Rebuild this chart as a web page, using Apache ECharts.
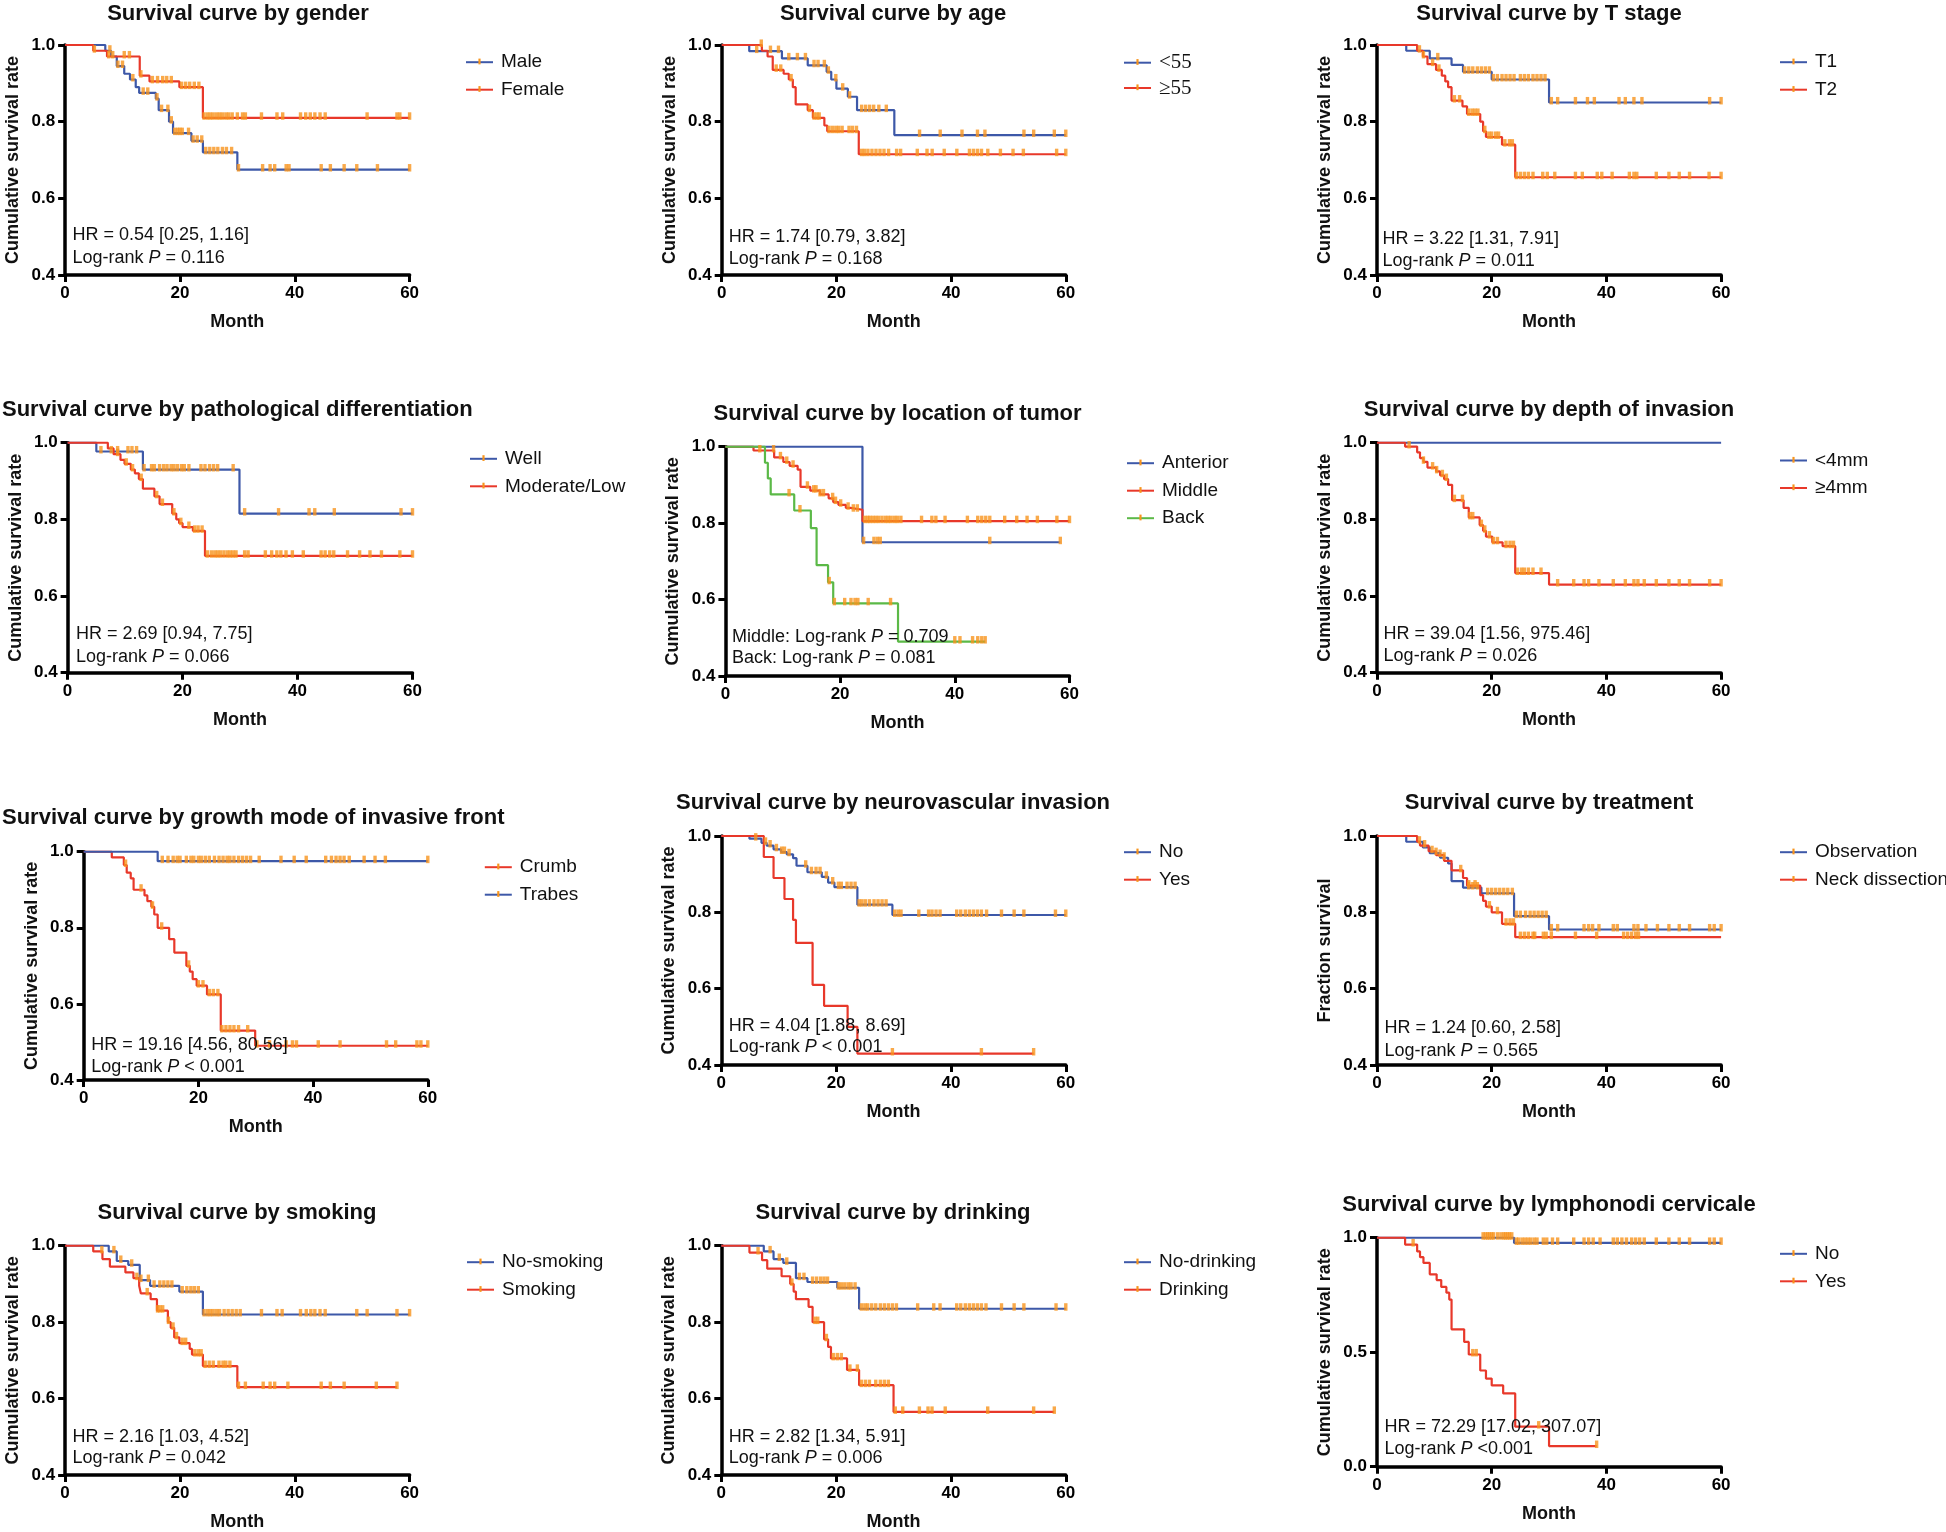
<!DOCTYPE html>
<html lang="en">
<head>
<meta charset="UTF-8">
<title>Survival curves</title>
<script src="https://cdn.jsdelivr.net/npm/echarts@6.0.0/dist/echarts.min.js"></script>
<style>
  body { margin: 0; padding: 0; background: #fff; }
  #main { width: 1946px; height: 1532px; }
</style>
</head>
<body>
<div id="main"></div>
<script>
// ---------- data: [month, survival after step], last point = end of follow-up ----------
// gender
const maleSteps = [[0,1],[7.0,0.985],[8.0,0.97],[9.0,0.945],[10.3,0.925],[11.3,0.91],[12.3,0.89],[12.9,0.875],[15.8,0.86],[16.3,0.83],[18.1,0.80],[18.8,0.77],[22.0,0.75],[24.0,0.72],[30.0,0.675],[60,0.675]];
const maleCensor = [7.8,9.2,10.0,11.8,13.6,14.4,16.0,16.8,17.9,18.5,19.1,19.6,20.0,20.4,21.5,22.3,23.0,23.8,24.5,25.2,25.9,26.6,27.4,28.1,29.0,30.2,34.4,35.7,36.5,38.5,39.0,44.6,46.2,48.6,50.8,54.4,60];
const femaleSteps = [[0,1],[4.9,0.985],[7.3,0.97],[13.0,0.92],[14.7,0.905],[19.9,0.89],[24.0,0.81],[60,0.81]];
const femaleCensor = [5.1,7.6,8.3,10.3,11.2,13.2,15.2,16.1,17.0,17.7,18.5,20.3,21.0,21.7,22.5,23.3,24.2,24.8,25.3,25.8,26.4,26.9,27.4,28.0,28.5,29.1,30.0,30.9,31.4,34.2,36.9,37.9,41.0,41.9,42.7,43.5,44.4,45.3,52.6,57.8,58.3,60];
// age
const youngSteps = [[0,1],[4.8,0.984],[10.5,0.965],[15.0,0.947],[18.3,0.93],[19.1,0.91],[20.0,0.886],[22.0,0.865],[23.6,0.83],[30.1,0.765],[60,0.765]];
const youngCensor = [6.1,8.5,9.9,11.7,13.2,14.6,16.1,16.8,17.9,18.6,19.9,21.1,22.3,24.4,25.1,25.8,26.5,27.4,28.7,34.5,38.1,41.9,44.6,45.9,52.7,54.4,58.0,60];
const oldSteps = [[0,1],[7.0,0.985],[8.0,0.97],[8.9,0.935],[10.8,0.925],[11.7,0.91],[12.4,0.89],[12.9,0.845],[15.0,0.83],[15.9,0.81],[17.9,0.79],[18.4,0.775],[23.9,0.715],[60,0.715]];
const oldCensor = [6.9,9.5,10.3,12.1,15.3,16.1,16.6,17.0,18.7,19.3,19.9,20.4,21.0,22.2,22.8,23.5,24.4,24.9,25.5,26.2,26.9,27.6,28.3,29.1,30.5,31.2,34.1,35.8,36.7,38.8,41.0,43.2,43.9,44.6,45.3,46.4,48.6,50.8,52.6,58.4,60];
// T stage
const t1Steps = [[0,1],[5.1,0.985],[9.2,0.965],[13.0,0.948],[15.0,0.93],[20.0,0.91],[30.0,0.85],[60,0.85]];
const t1Censor = [7.4,10.6,15.3,16.0,16.7,17.5,18.2,18.9,19.6,20.3,21.0,21.8,22.5,23.2,23.9,25.0,25.7,26.4,27.2,27.9,28.6,29.3,30.4,31.5,34.6,36.7,37.9,42.2,43.3,44.8,46.2,58.0,60];
const t2Steps = [[0,1],[7.0,0.985],[8.0,0.97],[8.8,0.95],[10.3,0.935],[11.3,0.92],[11.9,0.905],[12.4,0.89],[13.0,0.855],[14.9,0.84],[15.7,0.82],[18.0,0.80],[18.5,0.775],[19.0,0.76],[21.8,0.74],[24.1,0.655],[60,0.655]];
const t2Censor = [8.1,9.7,10.8,13.5,14.4,16.0,16.6,17.1,17.6,18.8,19.5,20.0,20.7,21.2,22.3,23.1,23.6,24.3,25.0,25.7,26.4,27.2,28.9,29.7,31.0,34.6,35.8,38.4,39.2,41.0,44.0,44.8,45.3,48.7,50.9,52.7,54.5,57.9,60];
// pathological differentiation
const wellSteps = [[0,1],[5.0,0.977],[13.1,0.93],[29.9,0.815],[60,0.815]];
const wellCensor = [5.8,7.6,8.7,10.5,11.2,12.0,13.3,14.6,15.1,16.0,16.7,17.3,18.0,18.5,19.1,19.8,20.3,21.1,23.2,23.9,24.7,25.4,26.1,28.8,30.8,36.7,42.0,43.0,46.4,58.0,60];
const modSteps = [[0,1],[7.0,0.985],[8.0,0.97],[9.2,0.955],[9.9,0.945],[11.0,0.93],[11.7,0.92],[12.4,0.905],[13.1,0.88],[15.1,0.86],[16.0,0.84],[18.2,0.815],[18.9,0.80],[19.4,0.79],[20.0,0.78],[21.8,0.77],[23.9,0.705],[60,0.705]];
const modCensor = [8.7,10.2,11.3,12.8,15.5,16.5,18.5,19.7,21.1,22.1,22.7,23.4,24.3,25.0,25.6,26.1,26.6,27.2,27.8,28.3,28.8,29.3,30.8,31.4,34.4,35.5,36.4,37.1,38.0,39.1,41.0,44.1,44.8,45.6,46.3,48.7,50.8,52.6,54.6,57.8,60];
// location of tumor
const anteriorSteps = [[0,1],[23.9,0.75],[58.4,0.75]];
const anteriorCensor = [24.1,25.9,26.5,27.0,46.1,58.4];
const middleSteps = [[0,1],[4.9,0.99],[8.5,0.972],[10.1,0.96],[11.2,0.95],[12.6,0.94],[13.1,0.895],[14.8,0.885],[16.5,0.875],[18.0,0.865],[18.8,0.855],[19.7,0.848],[21.0,0.84],[21.8,0.835],[23.9,0.805],[60,0.805]];
const middleCensor = [6.0,8.4,9.6,10.7,11.8,14.3,15.4,15.8,16.5,17.1,18.7,19.2,20.1,21.4,22.3,23.0,24.3,24.8,25.2,25.7,26.2,26.7,27.3,27.9,28.4,28.9,29.5,30.0,30.6,34.2,36.0,36.7,38.3,42.2,44.0,44.7,45.4,46.1,48.7,50.8,52.6,54.4,57.8,60];
const backSteps = [[0,1],[6.9,0.958],[7.4,0.917],[7.9,0.875],[12.0,0.833],[14.9,0.787],[15.9,0.69],[17.9,0.645],[18.8,0.59],[30.1,0.49],[45.3,0.49]];
const backCensor = [11.1,13.0,18.1,19.0,20.8,21.9,22.6,23.1,24.9,28.8,40.0,40.9,43.1,44.0,44.7,45.3];
// depth of invasion
const thinSteps = [[0,1],[60,1]];
const thinCensor = [];
const thickSteps = [[0,1],[4.9,0.99],[7.0,0.975],[7.5,0.96],[8.1,0.95],[8.8,0.935],[10.3,0.925],[11.0,0.915],[11.7,0.905],[12.4,0.89],[13.1,0.85],[15.1,0.83],[16.0,0.805],[17.9,0.785],[18.5,0.77],[19.0,0.755],[20.1,0.74],[21.9,0.73],[24.1,0.66],[30.0,0.63],[60,0.63]];
const thickCensor = [5.6,8.1,9.7,10.4,11.4,12.1,13.5,14.9,16.2,16.7,18.2,18.8,19.6,20.3,21.0,22.5,23.2,23.8,24.5,25.2,25.7,26.4,27.2,28.6,31.5,34.3,36.1,36.9,38.7,41.2,43.3,44.8,45.5,46.6,48.7,50.9,52.7,54.5,58.0,60];
// growth mode of invasive front
const crumbSteps = [[0,1],[4.9,0.985],[7.0,0.965],[7.5,0.945],[8.2,0.93],[8.7,0.90],[10.6,0.885],[11.1,0.87],[11.8,0.855],[12.3,0.835],[12.9,0.80],[14.9,0.77],[15.8,0.735],[17.9,0.70],[18.5,0.685],[19.0,0.665],[19.7,0.648],[21.5,0.625],[23.9,0.53],[29.9,0.49],[60,0.49]];
const crumbCensor = [7.3,10.0,12.0,13.6,18.3,20.0,20.8,21.9,22.6,23.4,24.1,24.8,25.5,26.2,27.0,28.6,30.2,32.4,35.3,36.4,37.1,40.9,44.7,52.8,54.4,58.1,58.8,60];
const trabesSteps = [[0,1],[12.9,0.975],[60,0.975]];
const trabesCensor = [13.7,14.7,15.6,16.3,16.8,17.9,18.7,19.2,20.0,20.5,21.2,21.9,22.8,23.6,24.3,25.0,25.5,26.2,27.0,27.7,28.4,29.1,30.6,34.4,36.7,38.8,42.2,43.2,44.0,44.7,45.4,46.3,48.9,50.8,52.6,60];
// neurovascular invasion
const nvNoSteps = [[0,1],[4.9,0.993],[7.0,0.982],[7.9,0.975],[9.1,0.965],[10.4,0.958],[11.4,0.952],[12.5,0.942],[13.1,0.922],[15.0,0.905],[17.5,0.893],[18.6,0.878],[19.7,0.866],[23.7,0.82],[29.8,0.793],[60,0.793]];
const nvNoCensor = [6.0,7.7,8.5,9.6,10.5,11.0,11.8,14.7,15.7,16.5,17.2,18.3,19.4,20.4,20.9,21.9,22.6,23.3,24.0,24.5,25.1,25.8,26.6,27.3,28.0,28.7,30.2,30.8,31.3,34.4,36.1,36.7,37.4,38.1,41.0,41.7,42.5,43.2,43.9,44.6,45.3,46.2,48.8,51.0,52.7,58.2,60];
const nvYesSteps = [[0,1],[7.4,0.945],[9.1,0.89],[11.0,0.835],[12.5,0.78],[13.0,0.72],[15.9,0.61],[17.9,0.555],[22.0,0.50],[23.7,0.43],[54.4,0.43]];
const nvYesCensor = [29.8,45.3,54.4];
// treatment
const obsSteps = [[0,1],[5.1,0.985],[8.0,0.97],[9.2,0.955],[11.0,0.943],[12.4,0.928],[13.0,0.882],[15.0,0.865],[18.2,0.85],[23.9,0.79],[30.0,0.755],[60,0.755]];
const obsCensor = [7.4,10.3,11.7,16.0,16.7,17.5,19.3,20.0,20.7,21.4,22.1,22.8,23.6,24.3,25.0,25.9,26.7,27.4,28.1,28.8,29.5,30.4,31.5,36.1,36.9,37.6,38.7,41.2,41.9,44.8,45.5,46.9,48.9,50.9,52.7,54.5,58.0,58.8,60];
const neckSteps = [[0,1],[7.0,0.985],[7.5,0.975],[9.0,0.96],[10.3,0.95],[11.7,0.935],[13.0,0.91],[15.0,0.89],[15.7,0.87],[18.0,0.845],[18.5,0.83],[19.0,0.815],[20.0,0.80],[21.8,0.77],[24.1,0.735],[60,0.735]];
const neckCensor = [8.3,9.6,11.0,14.6,16.0,17.1,19.6,21.0,22.5,23.2,23.8,25.0,25.7,26.4,27.2,27.5,29.0,29.5,30.4,34.6,38.3,43.0,43.7,44.4,45.1,45.6];
// smoking
const noSmokeSteps = [[0,1],[7.6,0.985],[9.0,0.96],[11.0,0.95],[13.0,0.91],[14.8,0.895],[19.9,0.88],[24.0,0.82],[60,0.82]];
const noSmokeCensor = [8.5,9.7,11.6,13.2,14.5,15.5,16.5,17.2,17.9,18.6,20.4,21.2,21.9,22.5,23.2,24.2,24.8,25.3,25.8,26.4,26.9,27.7,28.4,29.1,29.8,30.5,34.2,36.9,37.8,41.0,42.0,42.8,43.5,44.4,45.3,50.8,52.6,57.8,60];
const smokeSteps = [[0,1],[4.9,0.985],[6.5,0.965],[7.8,0.945],[10.5,0.93],[11.9,0.915],[12.9,0.895],[13.2,0.875],[14.9,0.86],[16.0,0.83],[17.9,0.80],[18.4,0.785],[19.0,0.76],[19.9,0.745],[21.7,0.73],[22.1,0.715],[24.0,0.685],[30.0,0.63],[57.8,0.63]];
const smokeCensor = [6.4,12.5,14.3,16.1,16.5,17.0,18.0,18.8,19.4,20.4,21.0,22.6,23.2,23.7,24.4,25.1,25.8,26.8,27.5,28.0,28.7,30.2,31.4,34.5,35.7,36.5,38.8,44.6,46.2,48.6,54.2,57.8];
// drinking
const noDrinkSteps = [[0,1],[7.4,0.985],[9.1,0.965],[10.8,0.955],[13.0,0.915],[15.0,0.905],[20.2,0.89],[24.0,0.835],[60,0.835]];
const noDrinkCensor = [8.5,10.1,11.4,13.6,14.4,15.9,16.6,17.3,17.9,18.5,20.4,20.9,21.5,22.1,22.6,23.3,24.4,25.0,25.5,26.2,26.9,27.7,28.4,29.1,29.8,30.5,34.2,37.0,38.1,41.0,41.7,42.5,43.2,43.9,44.6,45.3,46.1,48.8,51.0,52.7,58.3,60];
const drinkSteps = [[0,1],[4.9,0.982],[7.1,0.962],[8.0,0.94],[10.5,0.92],[12.0,0.90],[12.6,0.88],[13.0,0.86],[15.2,0.84],[15.9,0.80],[17.9,0.755],[18.6,0.735],[19.1,0.705],[21.9,0.675],[24.0,0.635],[30.0,0.565],[58.0,0.565]];
const drinkCensor = [6.4,12.3,16.3,16.8,18.3,19.5,20.2,20.9,22.4,23.7,24.4,25.1,25.8,26.9,27.7,28.4,29.1,30.3,31.6,34.5,36.0,36.7,39.0,46.4,54.4,58.0];
// lymphonodi cervicale
const lnNoSteps = [[0,1],[23.9,0.977],[60,0.977]];
const lnNoCensor = [18.5,18.9,19.3,19.6,20.0,20.3,21.0,21.6,22.1,22.4,22.8,23.1,23.5,24.3,24.7,25.3,25.8,26.3,26.8,27.4,27.9,29.0,29.6,30.6,31.5,34.3,36.1,36.9,37.7,38.9,41.2,41.9,42.7,43.5,44.4,45.1,45.8,46.6,48.7,50.9,52.7,54.5,58.0,58.8,60];
const lnYesSteps = [[0,1],[4.9,0.97],[7.0,0.94],[7.5,0.915],[8.1,0.89],[9.2,0.84],[10.4,0.815],[11.2,0.785],[12.1,0.76],[12.6,0.73],[13.0,0.60],[15.2,0.545],[16.0,0.49],[18.0,0.42],[19.0,0.385],[20.0,0.355],[22.0,0.32],[24.1,0.175],[30.0,0.09],[38.3,0.09]];
const lnYesCensor = [6.3,16.7,17.3,28.2,38.3];

// ---------- panels ----------
const BLUE = '#3D58A8', RED = '#E8382A', GREEN = '#5BB947', ORANGE = '#F7941D';
const FONT = 'Arial, "Liberation Sans", Helvetica, sans-serif';
const CSR = 'Cumulative survival rate';

const panels = [
  { title: 'Survival curve by gender', yName: CSR,
    groups: [['Male', BLUE, maleSteps, maleCensor], ['Female', RED, femaleSteps, femaleCensor]],
    hr: 'HR = 0.54 [0.25, 1.16]', p: ['Log-rank ', ' = 0.116'] },
  { title: 'Survival curve by age', yName: CSR, serifLegend: true,
    groups: [['<55', BLUE, youngSteps, youngCensor], ['≥55', RED, oldSteps, oldCensor]],
    hr: 'HR = 1.74 [0.79, 3.82]', p: ['Log-rank ', ' = 0.168'] },
  { title: 'Survival curve by T stage', yName: CSR,
    groups: [['T1', BLUE, t1Steps, t1Censor], ['T2', RED, t2Steps, t2Censor]],
    hr: 'HR = 3.22 [1.31, 7.91]', p: ['Log-rank ', ' = 0.011'] },
  { title: 'Survival curve by pathological differentiation', yName: CSR,
    groups: [['Well', BLUE, wellSteps, wellCensor], ['Moderate/Low', RED, modSteps, modCensor]],
    hr: 'HR = 2.69 [0.94, 7.75]', p: ['Log-rank ', ' = 0.066'] },
  { title: 'Survival curve by location of tumor', yName: CSR,
    groups: [['Anterior', BLUE, anteriorSteps, anteriorCensor], ['Middle', RED, middleSteps, middleCensor], ['Back', GREEN, backSteps, backCensor]],
    hr: 'Middle: Log-rank {i|P} = 0.709', p: ['Back: Log-rank ', ' = 0.081'] },
  { title: 'Survival curve by depth of invasion', yName: CSR,
    groups: [['<4mm', BLUE, thinSteps, thinCensor], ['≥4mm', RED, thickSteps, thickCensor]],
    hr: 'HR = 39.04 [1.56, 975.46]', p: ['Log-rank ', ' = 0.026'] },
  { title: 'Survival curve by growth mode of invasive front', yName: CSR,
    groups: [['Crumb', RED, crumbSteps, crumbCensor], ['Trabes', BLUE, trabesSteps, trabesCensor]],
    hr: 'HR = 19.16 [4.56, 80.56]', p: ['Log-rank ', ' < 0.001'] },
  { title: 'Survival curve by neurovascular invasion', yName: CSR,
    groups: [['No', BLUE, nvNoSteps, nvNoCensor], ['Yes', RED, nvYesSteps, nvYesCensor]],
    hr: 'HR = 4.04 [1.88, 8.69]', p: ['Log-rank ', ' < 0.001'] },
  { title: 'Survival curve by treatment', yName: 'Fraction survival',
    groups: [['Observation', BLUE, obsSteps, obsCensor], ['Neck dissection', RED, neckSteps, neckCensor]],
    hr: 'HR = 1.24 [0.60, 2.58]', p: ['Log-rank ', ' = 0.565'] },
  { title: 'Survival curve by smoking', yName: CSR,
    groups: [['No-smoking', BLUE, noSmokeSteps, noSmokeCensor], ['Smoking', RED, smokeSteps, smokeCensor]],
    hr: 'HR = 2.16 [1.03, 4.52]', p: ['Log-rank ', ' = 0.042'] },
  { title: 'Survival curve by drinking', yName: CSR,
    groups: [['No-drinking', BLUE, noDrinkSteps, noDrinkCensor], ['Drinking', RED, drinkSteps, drinkCensor]],
    hr: 'HR = 2.82 [1.34, 5.91]', p: ['Log-rank ', ' = 0.006'] },
  { title: 'Survival curve by lymphonodi cervicale', yName: CSR, yMin: 0, yStep: 0.5,
    groups: [['No ', BLUE, lnNoSteps, lnNoCensor], ['Yes ', RED, lnYesSteps, lnYesCensor]],
    hr: 'HR = 72.29 [17.02, 307.07]', p: ['Log-rank ', ' <0.001'] }
];

// layout: grid [left, top, width, height], title [x, y, align], legend [x, firstRowY], text [x, y1, y2]
const boxes = [
  { g: [65.1, 45, 344.5, 230], t: [238, 14, 'center'], lg: [460, 61.7], tx: [72.5, 235, 257.7] },
  { g: [721.7, 45, 344.1, 230], t: [893, 14, 'center'], lg: [1118, 61.7], tx: [728.8, 236.7, 259.3] },
  { g: [1377, 45, 344.1, 230], t: [1549, 14, 'center'], lg: [1774, 61.7], tx: [1382.4, 239.3, 261] },
  { g: [67.6, 442.7, 344.9, 230], t: [2, 409.5, 'left'], lg: [464, 458.3], tx: [75.9, 634.3, 656.7] },
  { g: [725.4, 446.7, 344.1, 229.3], t: [897.5, 414, 'center'], lg: [1121, 462.7], tx: [732, 636.7, 658.3] },
  { g: [1377, 442.7, 344.1, 230], t: [1549, 409.5, 'center'], lg: [1774, 460], tx: [1383.6, 634, 656] },
  { g: [83.7, 851.7, 344.1, 228.3], t: [2, 817.5, 'left'], lg: [478.8, 866.7], tx: [91.2, 1045, 1066.7] },
  { g: [721.3, 836, 344.5, 229], t: [893, 802.5, 'center'], lg: [1118, 851.7], tx: [728.8, 1025.7, 1047.3] },
  { g: [1377, 836, 344.1, 229], t: [1549, 802.5, 'center'], lg: [1774, 851.7], tx: [1384.5, 1028.3, 1050.7] },
  { g: [65.1, 1245.7, 344.5, 229.3], t: [237, 1212.5, 'center'], lg: [461, 1261.7], tx: [72.5, 1436.7, 1458.3] },
  { g: [721.3, 1245.7, 344.5, 229.3], t: [893, 1212.5, 'center'], lg: [1118, 1261.7], tx: [728.8, 1436.7, 1458.3] },
  { g: [1377, 1237.7, 344.1, 229], t: [1549, 1204.5, 'center'], lg: [1774, 1253.3], tx: [1384.5, 1427.3, 1449.3] }
];

// censor tick used as the legend symbol (bounding box 10x10, thin bar in the middle)
const TICK = 'path://M0,0M10,10M3.5,0h3v8h-3z';

function survAt(steps, t) {
  let v = steps[0][1];
  for (const [x, y] of steps) { if (x <= t) v = y; else break; }
  return v;
}

const grid = [], xAxis = [], yAxis = [], legend = [], series = [], graphic = [];
const italicP = { fontStyle: 'italic', fontSize: 18, fontFamily: FONT, fill: '#111' };

panels.forEach((p, i) => {
  const b = boxes[i];
  grid.push({ left: b.g[0], top: b.g[1], width: b.g[2], height: b.g[3], containLabel: false, outerBoundsMode: 'none' });
  const axisCommon = {
    gridIndex: i,
    axisLine: { show: true, onZero: false, lineStyle: { color: '#000', width: 3.5 } },
    axisTick: { show: true, length: 7, lineStyle: { color: '#000', width: 3 } },
    splitLine: { show: false },
    nameTextStyle: { color: '#111', fontWeight: 'bold', fontSize: 18, fontFamily: FONT }
  };
  xAxis.push(Object.assign({}, axisCommon, {
    type: 'value', min: 0, max: 60, interval: 20,
    name: 'Month', nameLocation: 'middle', nameGap: 38,
    axisLabel: { color: '#000', fontWeight: 'bold', fontSize: 17, fontFamily: FONT, margin: 10 }
  }));
  const yMin = p.yMin !== undefined ? p.yMin : 0.4;
  const yStep = p.yStep || 0.2;
  yAxis.push(Object.assign({}, axisCommon, {
    type: 'value', min: yMin, max: 1, interval: yStep,
    name: p.yName, nameLocation: 'middle', nameRotate: 90, nameGap: 43,
    axisLabel: { color: '#000', fontWeight: 'bold', fontSize: 17, fontFamily: FONT, margin: 10,
      formatter: v => v.toFixed(1) }
  }));

  legend.push({
    left: b.lg[0], top: b.lg[1] - 14.5, orient: 'vertical',
    data: p.groups.map(g => g[0]),
    itemWidth: 27, itemHeight: 9,
    itemGap: p.serifLegend ? 4.3 : 7.5,
    selectedMode: false,
    textStyle: {
      color: '#111', fontSize: p.serifLegend ? 21 : 19, lineHeight: 20,
      fontFamily: p.serifLegend ? '"Liberation Serif", "Times New Roman", serif' : FONT,
      padding: [0, 0, 0, 3]
    }
  });

  p.groups.forEach(([name, color, steps, censor]) => {
    series.push({
      type: 'line', name: name, xAxisIndex: i, yAxisIndex: i,
      data: steps, step: 'end', showSymbol: false,
      symbol: TICK, symbolSize: 8,
      lineStyle: { color: color, width: 2.2 },
      itemStyle: { color: ORANGE, borderColor: ORANGE, borderWidth: 0 },
      silent: true, animation: false, z: 2
    });
    series.push({
      type: 'scatter', name: name + ' censored', xAxisIndex: i, yAxisIndex: i,
      data: censor.map(t => [t, survAt(steps, t)]),
      symbol: 'rect', symbolSize: [3.4, 7.5], symbolOffset: [0, -1.8],
      itemStyle: { color: ORANGE },
      silent: true, animation: false, z: 3
    });
  });

  graphic.push({
    type: 'text', x: b.t[0], y: b.t[1],
    style: { text: p.title, fill: '#111', fontSize: 22, fontWeight: 'bold', fontFamily: FONT,
      align: b.t[2], verticalAlign: 'middle', textAlign: b.t[2], textVerticalAlign: 'middle' }
  });
  graphic.push({
    type: 'text', x: b.tx[0], y: b.tx[1], z: 10,
    style: { text: p.hr, fill: '#111', fontSize: 18, fontFamily: FONT, rich: { i: italicP },
      align: 'left', verticalAlign: 'middle', textAlign: 'left', textVerticalAlign: 'middle' }
  });
  graphic.push({
    type: 'text', x: b.tx[0], y: b.tx[2], z: 10,
    style: { text: p.p[0] + '{i|P}' + p.p[1], fill: '#111', fontSize: 18, fontFamily: FONT, rich: { i: italicP },
      align: 'left', verticalAlign: 'middle', textAlign: 'left', textVerticalAlign: 'middle' }
  });
});

var chartDom = document.getElementById('main');
var myChart = echarts.init(chartDom, null, { renderer: 'canvas' });
var option = {
  backgroundColor: '#fff',
  animation: false,
  grid: grid,
  xAxis: xAxis,
  yAxis: yAxis,
  legend: legend,
  series: series,
  graphic: graphic
};
option && myChart.setOption(option);
</script>
</body>
</html>
